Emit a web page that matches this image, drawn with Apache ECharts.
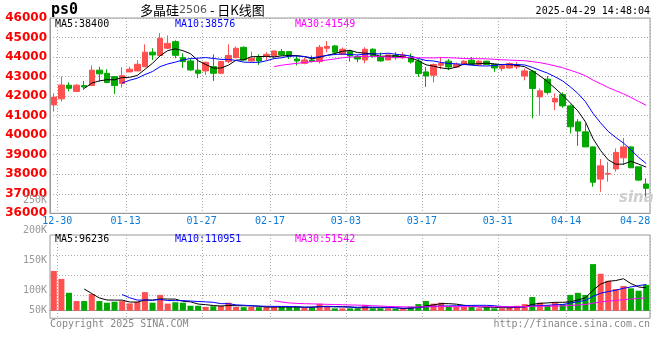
<!DOCTYPE html>
<html><head><meta charset="utf-8">
<script src="https://cdn.jsdelivr.net/npm/echarts@6/dist/echarts.min.js"></script>
<style>html,body{margin:0;padding:0;background:#fff}#c{width:660px;height:360px}</style>
</head><body><div id="c"></div>
<script>
// ---------------- data ----------------
const DATES = ['12-30','12-31','01-02','01-03','01-06','01-07','01-08','01-09','01-10','01-13','01-14','01-15','01-16','01-17','01-20','01-21','01-22','01-23','01-24','01-27',
'02-05','02-06','02-07','02-10','02-11','02-12','02-13','02-14','02-17','02-18','02-19','02-20','02-21','02-24','02-25','02-26','02-27','02-28',
'03-03','03-04','03-05','03-06','03-07','03-10','03-11','03-12','03-13','03-14','03-17','03-18','03-19','03-20','03-21','03-24','03-25','03-26','03-27','03-28',
'03-31','04-01','04-02','04-03','04-07','04-08','04-09','04-10','04-11','04-14','04-15','04-16','04-17','04-18','04-21','04-22','04-23','04-24','04-25','04-28','04-29'];
const OPEN  = [41550,41860,42560,42240,42540,42540,43330,43170,43000,42650,43240,43290,43500,44250,44080,44450,44790,43970,43800,43330,
43290,43510,43170,43770,43970,44500,43800,43970,44060,44060,44280,44280,43900,43680,43850,43770,44450,44570,44140,44280,
44030,43850,44400,44030,43850,44080,43970,44000,43790,43240,43070,43580,43790,43490,43620,43840,43620,43790,43620,43410,
43440,43500,43030,43270,41960,42870,41700,42080,41500,40680,40170,39400,37750,38010,38270,38840,39400,38380,37500];
const CLOSE = [41950,42570,42400,42560,42470,43330,43140,42700,42540,43050,43380,43630,44250,44110,44960,44700,44090,43770,43340,43170,
43730,43170,43770,44080,44450,43850,43940,43800,44140,44310,44110,44030,43800,43850,43770,44500,44540,44250,44400,44060,
43900,44400,44030,43800,44110,43970,44110,43750,43160,43030,43620,43670,43490,43620,43790,43620,43790,43620,43440,43550,
43670,43580,43290,42390,42270,42190,41880,41500,40430,40210,39400,37590,38430,38040,39120,39400,38330,37700,37280];
const LOW   = [41210,41720,42240,42230,42320,42530,42750,42660,42110,42440,43230,43280,43490,43850,44070,44410,43940,43450,43290,42920,
43080,42780,43130,43680,43940,43820,43770,43600,43850,43940,44070,43900,43570,43630,43730,43670,44250,44110,44110,43770,
43730,43680,43970,43770,43840,43870,43900,43670,42980,42470,42700,43380,43330,43440,43580,43580,43600,43600,43240,43270,
43410,43380,42810,40860,41030,42080,41280,41400,40090,39460,39390,37360,37100,37620,38130,38470,38320,37650,36850];
const HIGH  = [42150,43000,42710,42610,42780,43570,43510,43380,43020,43480,43510,43840,44650,44450,45220,45100,44860,44190,43900,43900,
43770,44140,43800,44650,44540,44550,44280,44140,44250,44320,44410,44290,44080,43970,44080,44620,44820,44620,44490,44360,
44110,44500,44450,44230,44140,44250,44250,44180,43920,43490,43670,43970,43890,43720,43840,44000,43840,43810,43630,43580,
43720,43750,43410,43330,42390,43030,42130,42190,41570,40820,40600,39420,38780,38640,39320,39860,39420,38390,37790];
const VOLUME = [169000,135000,76000,41000,41000,71000,41000,34000,38000,41000,31000,38000,79000,34000,67000,30000,36000,34000,21000,21000,
16000,19000,21000,34000,16000,15000,16000,15000,16000,15000,16000,15000,15000,12000,16000,30000,20000,10000,10000,10000,
10000,24000,10000,10000,10000,8000,8000,17000,28000,41000,30000,34000,17000,17000,17000,17000,10000,17000,10000,10000,
16000,21000,28000,58000,34000,24000,34000,28000,67000,76000,67000,198000,157000,127000,92000,105000,95000,85000,110000];

const X_LABELS = ['12-30','01-13','01-27','02-17','03-03','03-17','03-31','04-14','04-28'];
const X_GRID_LABELS = ['12-30','01-13','01-27','02-17','03-03','03-17','03-31','04-14'];
const PRICE_MIN = 36000, PRICE_MAX = 46000, PRICE_STEP = 1000;
const VOL_TICK_LABELS = ['50K','100K','150K','200K','250K'];
const PRICE_LEGEND = ['MA5:38400','MA10:38576','MA30:41549'];
const VOL_LEGEND = ['MA5:96236','MA10:110951','MA30:51542'];
const MA_PERIODS = [5,10,30];

// ---------------- layout / style ----------------
const UP = '#ff5050', DOWN = '#00a800';
const MA_COLORS = ['#000000','#0000ff','#ff00ff'];
const GRID_COLOR = '#aaaaaa', FRAME_COLOR = '#999999';
const MONO = '"DejaVu Sans Mono", monospace';
const PLOT_L = 50, PLOT_R = 10;
const P_TOP = 18, P_H = 195.3;
const V_TOP = 235, V_H = 83.3;
const V_BASE_PX = 310.7, V_PER_PX = 4250;           // px of zero-volume line, volume per pixel
const VOL_AXIS_MIN = -(V_TOP + V_H - V_BASE_PX) * V_PER_PX;
const VOL_AXIS_MAX = (V_BASE_PX - V_TOP) * V_PER_PX;
const VGRID_STEPS = 25, VGRID_SHOW = [7,13,19];       // helper axis for dotted volume grid lines

function ma(arr, n) {
  return arr.map((_, i) => {
    if (i < n - 1) return null;
    let s = 0; for (let k = i - n + 1; k <= i; k++) s += arr[k];
    return +(s / n).toFixed(2);
  });
}

const candleData = DATES.map((_, i) => [OPEN[i], CLOSE[i], LOW[i], HIGH[i]]);
const volData = VOLUME.map((v, i) => ({ value: v, itemStyle: { color: CLOSE[i] >= OPEN[i] ? UP : DOWN } }));

const gridLineStyle = { color: GRID_COLOR, type: [1, 2], width: 1 };
const splitX = {
  show: true,
  interval: (i) => i > 0 && X_GRID_LABELS.includes(DATES[i - 1]),
  lineStyle: gridLineStyle
};
const vgridColors = [];
for (let k = 0; k <= VGRID_STEPS; k++) vgridColors.push(VGRID_SHOW.includes(k) ? GRID_COLOR : 'rgba(0,0,0,0)');

const series = [
  {
    type: 'candlestick', xAxisIndex: 0, yAxisIndex: 0, data: candleData, barWidth: 6,
    itemStyle: { color: UP, color0: DOWN, borderColor: UP, borderColor0: DOWN, borderColorDoji: UP, borderWidth: 1 }
  }
];
MA_PERIODS.forEach((n, k) => {
  series.push({ type: 'line', xAxisIndex: 0, yAxisIndex: 0, data: ma(CLOSE, n), symbol: 'none', showSymbol: false,
    lineStyle: { color: MA_COLORS[k], width: 1 }, z: 5, silent: true });
});
series.push({ type: 'bar', xAxisIndex: 1, yAxisIndex: 1, data: volData, barWidth: 6, silent: true });
MA_PERIODS.forEach((n, k) => {
  series.push({ type: 'line', xAxisIndex: 1, yAxisIndex: 1, data: ma(VOLUME, n), symbol: 'none', showSymbol: false,
    lineStyle: { color: MA_COLORS[k], width: 1 }, z: 5, silent: true });
});

function txt(x, y, text, fill, font, align) {
  return { type: 'text', x: x, y: y, silent: true,
    style: { text: text, fill: fill, font: font, align: align || 'left', verticalAlign: 'middle' } };
}
const LEGEND_X = [55, 175, 295];
const graphics = [
  txt(51, 10, 'ps0', '#000', 'bold 15px ' + MONO),
  { type: 'text', x: 140, y: 10, silent: true, style: {
      text: '{a|多晶硅}{b|2506}{a| - 日K线图}', verticalAlign: 'middle',
      rich: { a: { fontFamily: '"Noto Sans CJK SC"', fontSize: 13, fill: '#000', color: '#000' },
              b: { fontFamily: '"DejaVu Sans"', fontSize: 11, fill: '#555', color: '#555' } } } },
  txt(650, 11, '2025-04-29 14:48:04', '#000', '10px ' + MONO, 'right'),
  txt(50, 324, 'Copyright 2025 SINA.COM', '#888', '10px ' + MONO),
  txt(650, 324, 'http://finance.sina.com.cn', '#888', '10px ' + MONO, 'right'),
  { type: 'text', x: 619, y: 198, silent: true, z: 1,
    style: { text: 'sina', fill: '#cfcfcf', font: 'italic bold 15px "DejaVu Sans"', verticalAlign: 'middle' } }
];
PRICE_LEGEND.forEach((t, k) => graphics.push(txt(LEGEND_X[k], 24, t, MA_COLORS[k], '10px ' + MONO)));
VOL_LEGEND.forEach((t, k) => graphics.push(txt(LEGEND_X[k], 239, t, MA_COLORS[k], '10px ' + MONO)));

const option = {
  animation: false,
  backgroundColor: '#fff',
  grid: [
    { left: PLOT_L, right: PLOT_R, top: P_TOP, height: P_H, show: true, borderColor: FRAME_COLOR, borderWidth: 1, containLabel: false, outerBoundsMode: 'none' },
    { left: PLOT_L, right: PLOT_R, top: V_TOP, height: V_H, show: true, borderColor: FRAME_COLOR, borderWidth: 1, containLabel: false, outerBoundsMode: 'none' },
    { left: PLOT_L, right: PLOT_R, top: 200.7, height: 150, show: false, containLabel: false, outerBoundsMode: 'none' }
  ],
  xAxis: [
    { type: 'category', gridIndex: 0, data: DATES, boundaryGap: true,
      axisLine: { lineStyle: { color: FRAME_COLOR } }, axisTick: { show: false },
      axisLabel: { interval: (i, v) => X_LABELS.includes(v), color: '#0a7ad8', fontFamily: MONO, fontSize: 10, margin: 3,
        padding: [0, 0, 0, 7],
        formatter: (v) => v === '04-28' ? '{r|' + v + '}' : v,
        rich: { r: { padding: [0, 14, 0, 0], color: '#0a7ad8', fontFamily: MONO, fontSize: 10 } } },
      splitLine: splitX },
    { type: 'category', gridIndex: 1, data: DATES, boundaryGap: true,
      axisLine: { lineStyle: { color: FRAME_COLOR } }, axisTick: { show: false }, axisLabel: { show: false },
      splitLine: splitX },
    { type: 'category', gridIndex: 2, data: DATES, show: false }
  ],
  yAxis: [
    { type: 'value', gridIndex: 0, min: PRICE_MIN, max: PRICE_MAX, interval: PRICE_STEP,
      axisLine: { show: true, lineStyle: { color: FRAME_COLOR } }, axisTick: { show: false },
      axisLabel: { color: '#ff0000', fontFamily: '"DejaVu Sans"', fontWeight: 'bold', fontSize: 12, margin: 3,
        formatter: (v) => String(v) },
      splitLine: { show: true, lineStyle: gridLineStyle } },
    { type: 'value', gridIndex: 1, min: VOL_AXIS_MIN, max: VOL_AXIS_MAX, show: false, splitLine: { show: false } },
    { type: 'value', gridIndex: 1, min: 0, max: VGRID_STEPS, interval: 1,
      axisLine: { show: false }, axisTick: { show: false }, axisLabel: { show: false },
      splitLine: { show: true, lineStyle: { color: vgridColors, type: [1, 2], width: 1 } } },
    { type: 'value', gridIndex: 2, min: 0, max: 250000, interval: 50000,
      axisLine: { show: false }, axisTick: { show: false }, splitLine: { show: false },
      axisLabel: { color: '#999', fontFamily: MONO, fontSize: 10, margin: 3, lineHeight: 10,
        formatter: (v) => { const k = Math.round(v / 50000); if (k === 0) return ''; const t = VOL_TICK_LABELS[k - 1]; return k === 1 ? t + '\n\n' : t; } } }
  ],
  graphic: graphics,
  series: series
};
const chart = echarts.init(document.getElementById('c'), null, { renderer: 'canvas' });
chart.setOption(option);
</script>
</body></html>
